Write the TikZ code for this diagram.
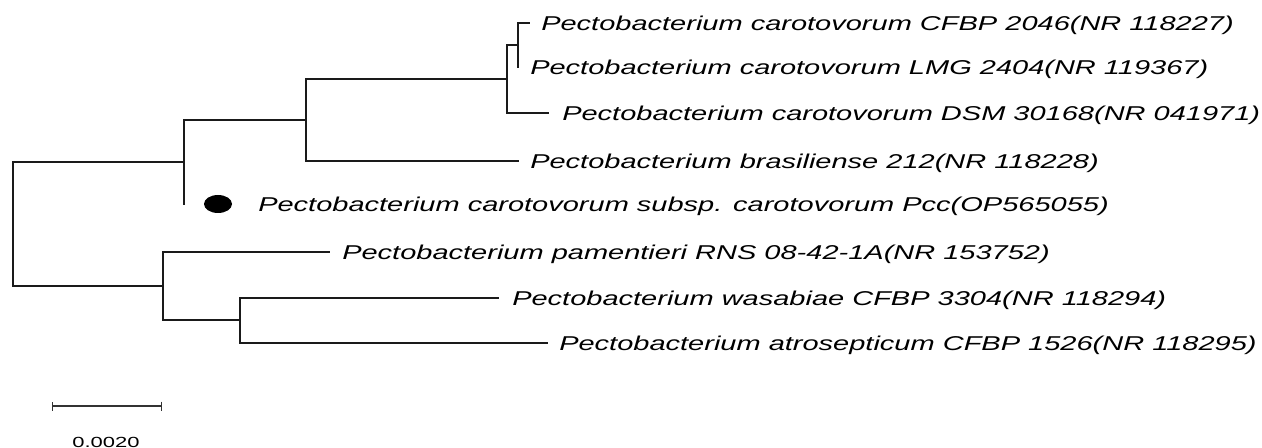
\documentclass[tikz,border=0pt]{standalone}
\usepackage{fontspec}
\usepackage{tikz}
\usetikzlibrary{arrows.meta,shapes.geometric}
\newfontfamily\leaffont[FakeStretch=1.45]{Liberation Sans}
\newfontfamily\barfont[FakeStretch=1.5]{Liberation Sans}
\definecolor{treeink}{HTML}{1A1A1A}
\definecolor{barink}{HTML}{333333}
\tikzset{
  branch/.style={draw=treeink, line width=0.95pt, line cap=rect},
  leaf/.style={anchor=base west, inner sep=0pt, xshift=9pt, yshift=-5.7pt,
    font=\leaffont\fontsize{15pt}{18pt}\selectfont\itshape},
  pccmark/.style={ellipse, fill=black, inner sep=0pt, minimum width=21pt, minimum height=13.5pt},
  scalebar/.style={draw=barink, line width=1pt, {Bar[width=6.75pt]}-{Bar[width=6.75pt]}},
  barlabel/.style={inner sep=0pt, font=\barfont\fontsize{11pt}{13pt}\selectfont}
}
\begin{document}
\begin{tikzpicture}[x=0.75pt, y=-0.75pt]
  \useasboundingbox (0,0) rectangle (1262,448);
  % leaf tips
  \coordinate (tCFBP) at (529,23);
  \coordinate (tLMG) at (518,67);
  \coordinate (tDSM) at (548,113);
  \coordinate (tBras) at (518,161);
  \coordinate (tPcc) at (184,204);
  \coordinate (tPam) at (329,252);
  \coordinate (tWas) at (498,298);
  \coordinate (tAtro) at (547,343);
  % internal nodes
  \coordinate (nA) at (518,45);
  \coordinate (nB) at (507,79);
  \coordinate (nC) at (306,120);
  \coordinate (nD) at (184,162);
  \coordinate (nE) at (240,320);
  \coordinate (nF) at (163,286);
  \coordinate (root) at (13,224);

  \draw[branch] (tCFBP) -| (nA) |- (tLMG);
  \draw[branch] (nA) -| (nB) |- (tDSM);
  \draw[branch] (nB) -| (nC) |- (tBras);
  \draw[branch] (nC) -| (nD) |- (tPcc);
  \draw[branch] (nD) -| (root) |- (nF);
  \draw[branch] (tPam) -| (nF) |- (nE);
  \draw[branch] (tWas) -| (nE) |- (tAtro);

  \node[leaf] (lCFBP) at (tCFBP) {Pectobacterium carotovorum CFBP 2046(NR 118227)};
  \node[leaf] (lLMG) at (tLMG) {Pectobacterium carotovorum LMG 2404(NR 119367)};
  \node[leaf, xshift=1.5pt] (lDSM) at (tDSM) {Pectobacterium carotovorum DSM 30168(NR 041971)};
  \node[leaf] (lBras) at (tBras) {Pectobacterium brasiliense 212(NR 118228)};
  \node[pccmark, xshift=25.5pt] (pccdot) at (tPcc) {};
  \node[leaf, xshift=21pt] (lPcc) at (pccdot) {Pectobacterium carotovorum subsp. carotovorum Pcc(OP565055)};
  \node[leaf, xshift=0.75pt] (lPam) at (tPam) {Pectobacterium pamentieri RNS 08-42-1A(NR 153752)};
  \node[leaf, xshift=1.5pt] (lWas) at (tWas) {Pectobacterium wasabiae CFBP 3304(NR 118294)};
  \node[leaf] (lAtro) at (tAtro) {Pectobacterium atrosepticum CFBP 1526(NR 118295)};

  \coordinate (sbL) at (52,406);
  \coordinate (sbR) at (162,406);
  \draw[scalebar] (sbL) -- (sbR);
  \node[barlabel] (sbText) at (106,442) {0.0020};
\end{tikzpicture}
\end{document}
